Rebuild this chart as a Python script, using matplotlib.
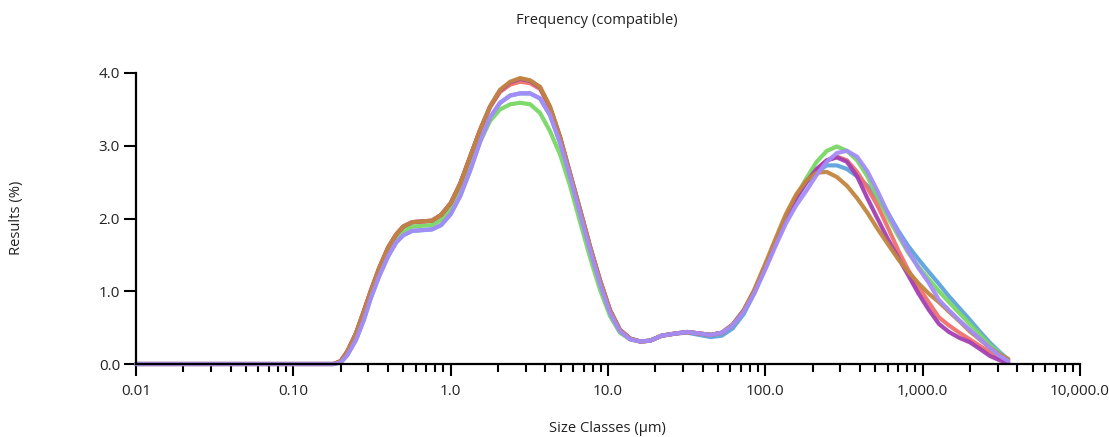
import matplotlib
matplotlib.use('Agg')
import matplotlib.pyplot as plt
from matplotlib.ticker import FixedLocator, LogLocator, NullFormatter

plt.rcParams['font.family'] = ['Open Sans', 'DejaVu Sans']

# size classes (um)
sizes = [0.01, 0.05, 0.1, 0.15, 0.18, 0.2, 0.22, 0.25, 0.28, 0.31,
         0.35, 0.40, 0.45, 0.50, 0.57, 0.66, 0.76, 0.87, 1.0, 1.15,
         1.33, 1.54, 1.78, 2.06, 2.39, 2.76, 3.2, 3.7, 4.28, 4.96,
         5.74, 6.65, 7.7, 8.9, 10.3, 11.9, 13.8, 16, 18.5, 22,
         27, 32, 38, 45, 53, 62, 73, 85, 100, 116,
         135, 157, 182, 212, 246, 285, 330, 383, 445, 516,
         600, 700, 810, 940, 1090, 1270, 1470, 1710, 1990, 2300,
         2680, 3100, 3500]

blue = [0, 0, 0, 0, 0, 0.02, 0.12, 0.33, 0.60, 0.90,
        1.20, 1.48, 1.67, 1.77, 1.83, 1.84, 1.85, 1.91, 2.06, 2.31,
        2.66, 3.06, 3.39, 3.59, 3.69, 3.72, 3.72, 3.65, 3.42, 3.04,
        2.57, 2.06, 1.56, 1.10, 0.70, 0.45, 0.34, 0.31, 0.32, 0.39,
        0.42, 0.43, 0.40, 0.37, 0.39, 0.49, 0.69, 0.97, 1.32, 1.65,
        1.99, 2.27, 2.49, 2.64, 2.73, 2.73, 2.68, 2.58, 2.45, 2.28,
        2.08, 1.83, 1.62, 1.44, 1.27, 1.10, 0.93, 0.77, 0.61, 0.45,
        0.29, 0.16, 0.06]

green = [0, 0, 0, 0, 0, 0.03, 0.15, 0.40, 0.69, 0.97,
         1.27, 1.55, 1.73, 1.83, 1.89, 1.90, 1.91, 1.98, 2.13, 2.38,
         2.72, 3.06, 3.34, 3.50, 3.57, 3.59, 3.57, 3.45, 3.20, 2.88,
         2.45, 1.95, 1.46, 1.02, 0.66, 0.43, 0.34, 0.31, 0.32, 0.39,
         0.42, 0.44, 0.42, 0.40, 0.43, 0.54, 0.74, 1.00, 1.34, 1.66,
         2.01, 2.30, 2.55, 2.78, 2.93, 2.99, 2.93, 2.80, 2.58, 2.30,
         2.02, 1.76, 1.53, 1.34, 1.17, 1.00, 0.85, 0.70, 0.55, 0.41,
         0.26, 0.14, 0.05]

red = [0, 0, 0, 0, 0, 0.04, 0.17, 0.42, 0.72, 1.00,
       1.31, 1.60, 1.78, 1.89, 1.95, 1.96, 1.97, 2.05, 2.21, 2.48,
       2.85, 3.22, 3.53, 3.74, 3.84, 3.88, 3.86, 3.78, 3.52, 3.11,
       2.61, 2.11, 1.61, 1.15, 0.74, 0.47, 0.35, 0.31, 0.32, 0.39,
       0.42, 0.44, 0.42, 0.40, 0.43, 0.54, 0.74, 1.00, 1.34, 1.67,
       2.01, 2.29, 2.50, 2.67, 2.80, 2.85, 2.80, 2.64, 2.42, 2.18,
       1.88, 1.56, 1.29, 1.06, 0.85, 0.64, 0.53, 0.43, 0.34, 0.25,
       0.16, 0.08, 0.03]

magenta = [0, 0, 0, 0, 0, 0.04, 0.17, 0.42, 0.72, 1.00,
           1.31, 1.60, 1.78, 1.89, 1.95, 1.96, 1.97, 2.05, 2.21, 2.48,
           2.85, 3.22, 3.54, 3.76, 3.87, 3.92, 3.89, 3.80, 3.53, 3.12,
           2.62, 2.12, 1.61, 1.15, 0.74, 0.47, 0.35, 0.31, 0.32, 0.39,
           0.42, 0.44, 0.42, 0.40, 0.43, 0.54, 0.74, 1.00, 1.34, 1.67,
           2.01, 2.29, 2.50, 2.68, 2.80, 2.84, 2.78, 2.58, 2.28, 2.00,
           1.72, 1.46, 1.22, 0.97, 0.75, 0.55, 0.44, 0.36, 0.30, 0.21,
           0.11, 0.05, 0.02]

brown = [0, 0, 0, 0, 0, 0.04, 0.17, 0.42, 0.72, 1.00,
         1.31, 1.60, 1.78, 1.89, 1.95, 1.96, 1.97, 2.05, 2.21, 2.48,
         2.85, 3.22, 3.54, 3.77, 3.88, 3.93, 3.90, 3.81, 3.54, 3.12,
         2.62, 2.12, 1.61, 1.15, 0.74, 0.47, 0.35, 0.31, 0.32, 0.39,
         0.42, 0.44, 0.42, 0.40, 0.43, 0.54, 0.74, 1.02, 1.38, 1.72,
         2.06, 2.33, 2.52, 2.63, 2.64, 2.57, 2.45, 2.28, 2.08, 1.86,
         1.65, 1.44, 1.27, 1.11, 0.97, 0.85, 0.72, 0.59, 0.45, 0.34,
         0.22, 0.13, 0.07]

lavender = [0, 0, 0, 0, 0, 0.02, 0.12, 0.33, 0.60, 0.90,
            1.20, 1.48, 1.67, 1.77, 1.83, 1.84, 1.85, 1.91, 2.06, 2.31,
            2.66, 3.06, 3.39, 3.59, 3.69, 3.72, 3.72, 3.65, 3.42, 3.04,
            2.57, 2.06, 1.56, 1.10, 0.70, 0.45, 0.34, 0.31, 0.32, 0.39,
            0.42, 0.44, 0.42, 0.40, 0.43, 0.53, 0.72, 0.97, 1.30, 1.62,
            1.93, 2.18, 2.38, 2.60, 2.78, 2.90, 2.93, 2.85, 2.65, 2.38,
            2.08, 1.80, 1.55, 1.32, 1.12, 0.88, 0.74, 0.60, 0.47, 0.35,
            0.22, 0.11, 0.04]

series = [
    (blue, '#5ea3dc'),
    (green, '#78d765'),
    (red, '#f0716b'),
    (magenta, '#a43fb3'),
    (brown, '#c2853f'),
    (lavender, '#a48cfa'),
]

x_ticks = [0.01, 0.1, 1, 10, 100, 1000, 10000]
x_tick_labels = ['0.01', '0.10', '1.0', '10.0', '100.0', '1,000.0', '10,000.0']
y_ticks = [0, 1, 2, 3, 4]
y_tick_labels = ['0.0', '1.0', '2.0', '3.0', '4.0']

text_color = '#222222'

fig = plt.figure(figsize=(11.09, 4.37), dpi=100)
ax = fig.add_axes([136 / 1109, 1 - 364 / 437, (1080 - 136) / 1109, (364 - 73) / 437])

for values, color in series:
    ax.plot(sizes, values, color=color, linewidth=3.0, solid_capstyle='round',
            solid_joinstyle='round', alpha=0.95, clip_on=False)

ax.set_xscale('log')
ax.set_xlim(0.01, 10000)
ax.set_ylim(0, 4)

ax.xaxis.set_major_locator(FixedLocator(x_ticks))
ax.set_xticklabels(x_tick_labels)
ax.xaxis.set_minor_locator(LogLocator(base=10, subs=range(2, 10), numticks=20))
ax.xaxis.set_minor_formatter(NullFormatter())
ax.set_yticks(y_ticks)
ax.set_yticklabels(y_tick_labels)

for side in ['top', 'right']:
    ax.spines[side].set_visible(False)
for side in ['left', 'bottom']:
    ax.spines[side].set_linewidth(1.6)
    ax.spines[side].set_color('black')

ax.tick_params(axis='both', which='major', direction='out', length=8.5, width=1.5,
               color='black', labelsize=11, labelcolor=text_color, pad=3)
ax.tick_params(axis='x', which='minor', direction='out', length=5.5, width=1.5, color='black')
ax.tick_params(axis='x', which='major', pad=6)

fig.text(597 / 1109, 1 - 20 / 437, 'Frequency (compatible)', ha='center', va='center',
         fontsize=10.6, color=text_color)
fig.text(607 / 1109, 1 - 428 / 437, 'Size Classes (µm)', ha='center', va='center',
         fontsize=10.6, color=text_color)
fig.text(17 / 1109, 1 - 218 / 437, 'Results (%)', ha='center', va='center',
         rotation=90, fontsize=10.6, color=text_color)

fig.savefig('out.png', dpi=100)
